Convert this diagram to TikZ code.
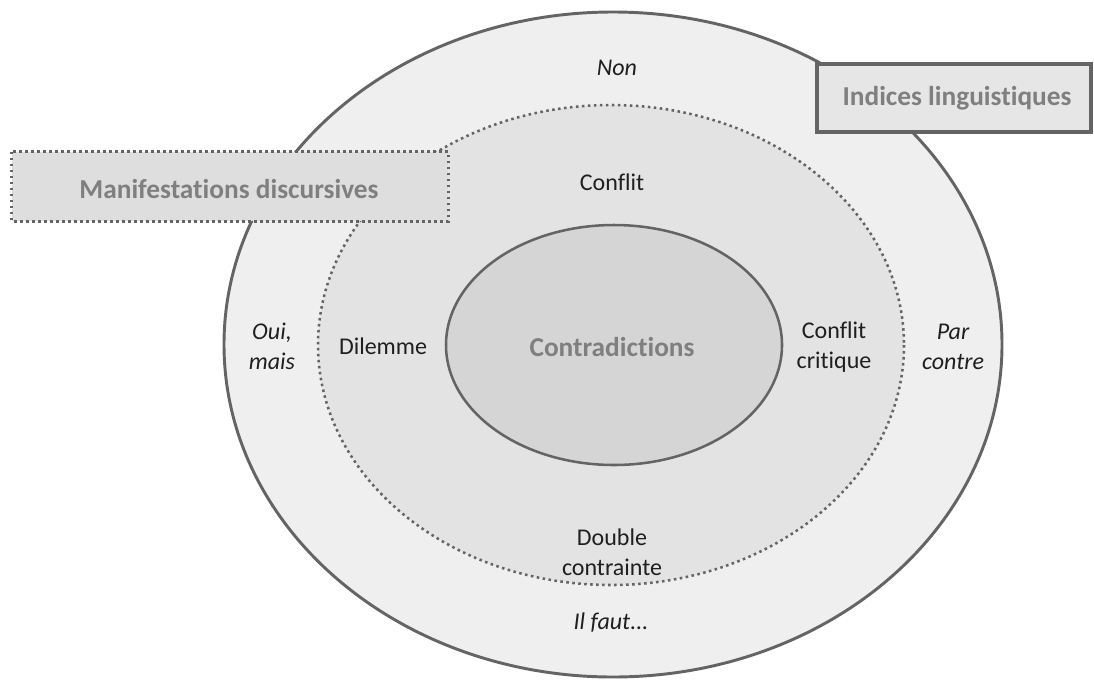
\documentclass[tikz,border=0pt]{standalone}
\usepackage{fontspec}
\setmainfont{Carlito}[Ligatures=NoCommon]
\usetikzlibrary{shapes.geometric}
\definecolor{edge}{HTML}{646464}
\definecolor{outerfill}{HTML}{EFEFEF}
\definecolor{midfill}{HTML}{E3E3E3}
\definecolor{innerfill}{HTML}{D5D5D5}
\definecolor{boxfill}{HTML}{E6E6E6}
\definecolor{mboxfill}{HTML}{DEDEDE}
\definecolor{titlegray}{HTML}{7F7F7F}
\tikzset{
  ring/.style={ellipse, inner sep=0pt, outer sep=0pt},
  dottedline/.style={draw=edge, line width=1.9pt, dash pattern=on 1.9pt off 2.6pt},
  lbl/.style={font=\fontsize{18}{22.5}\selectfont, align=center, text=black!88, inner sep=0pt},
  ital/.style={font=\fontsize{18}{22.5}\selectfont\itshape, align=center, text=black!88, inner sep=0pt},
  title/.style={font=\fontsize{20.5}{24}\selectfont\bfseries, text=titlegray, inner sep=0pt},
}
\begin{document}
\begin{tikzpicture}[x=0.75pt,y=-0.75pt]
\useasboundingbox (0,0) rectangle (1094,679);
\fill[white] (0,0) rectangle (1094,679);
% outer ellipse
\node[ring, draw=edge, line width=2.2pt, fill=outerfill, minimum width=583.5pt, minimum height=498.75pt] (outer) at (613,344.5) {};
% Indices box
\node[draw=edge, line width=2.3pt, fill=boxfill, minimum width=205.5pt, minimum height=51pt, inner sep=0pt] (indbox) at (954,98) {};
\node[title] (indtxt) at (957,98) {Indices linguistiques};
% middle dotted ellipse
\node[ring, fill=midfill, minimum width=439.5pt, minimum height=360pt] (middle) at (611,345) {};
\draw[dottedline] (middle.center) ellipse [x radius=293, y radius=240];
% inner ellipse
\node[ring, draw=edge, line width=1.9pt, fill=innerfill, minimum width=252pt, minimum height=180pt] (inner) at (614,345) {};
\node[title] (contr) at (612,347) {Contradictions};
% Manifestations box
\node[fill=mboxfill, minimum width=327pt, minimum height=51.75pt, inner sep=0pt] (manbox) at (230,186.5) {};
\draw[dottedline] (manbox.north west) rectangle (manbox.south east);
\node[title] (mantxt) at (229,189) {Manifestations discursives};
% labels
\node[ital] (non) at (617,68) {Non};
\node[lbl] (conflit) at (612,182) {Conflit};
\node[lbl] (dilemme) at (383,346) {Dilemme};
\node[lbl] (critique) at (834,347) {Conflit\\critique};
\node[lbl] (double) at (612,552) {Double\\contrainte};
\node[ital] (oui) at (272,346) {Oui,\\mais};
\node[ital] (par) at (953,347) {Par\\contre};
\node[ital] (faut) at (611,623) {Il faut...};
\end{tikzpicture}
\end{document}
